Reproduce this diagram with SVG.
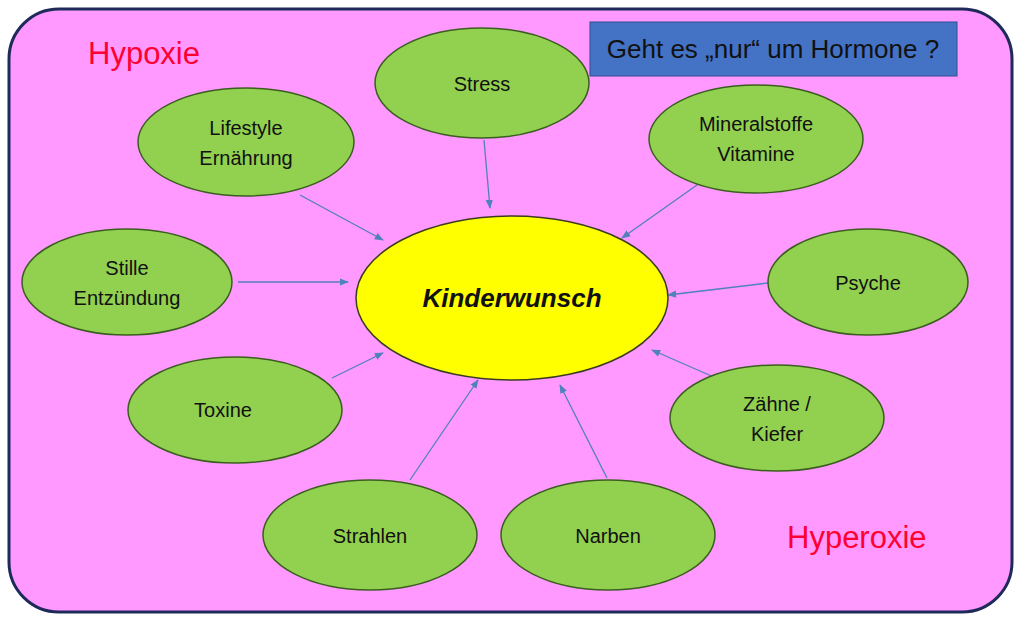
<svg xmlns="http://www.w3.org/2000/svg" width="1024" height="620" viewBox="0 0 1024 620">
<defs>
<marker id="ah" viewBox="0 0 10 10" refX="9" refY="5" markerWidth="7" markerHeight="7" orient="auto"><path d="M0,1 L10,5 L0,9 z" fill="#4F81BD"/></marker>
<style>
.n{fill:#92D050;stroke:#3B5E1F;stroke-width:1.5}
.t{font-family:"Liberation Sans",Arial,sans-serif;font-size:20px;fill:#111;text-anchor:middle}
.c{stroke:#4F81BD;stroke-width:1.3;fill:none;marker-end:url(#ah)}
.r{font-family:"Liberation Sans",Arial,sans-serif;font-size:31px;fill:#FF0033}
</style>
</defs>
<rect x="9" y="9" width="1003" height="603" rx="50" fill="#FF99FF" stroke="#1F2A5A" stroke-width="3"/>
<rect x="590" y="22" width="367" height="54" fill="#4472C4" stroke="#2F4F8F"/>
<text x="773" y="58" font-family="'Liberation Sans',Arial,sans-serif" font-size="26" text-anchor="middle" fill="#111">Geht es „nur“ um Hormone ?</text>
<text class="r" x="88" y="64">Hypoxie</text>
<text class="r" x="787" y="548">Hyperoxie</text>
<g id="connectors">
<line class="c" x1="484" y1="140" x2="490" y2="208"/>
<line class="c" x1="300" y1="195" x2="383" y2="240"/>
<line class="c" x1="697" y1="185" x2="622" y2="238"/>
<line class="c" x1="238" y1="282" x2="348" y2="282"/>
<line class="c" x1="768" y1="283" x2="668" y2="295"/>
<line class="c" x1="332" y1="378" x2="383" y2="353"/>
<line class="c" x1="716" y1="378" x2="652" y2="350"/>
<line class="c" x1="410" y1="480" x2="478" y2="380"/>
<line class="c" x1="607" y1="478" x2="560" y2="385"/>
</g>
<g id="center"><ellipse cx="512" cy="298" rx="156" ry="82" fill="#FFFF00" stroke="#3B3B1F" stroke-width="1.5"/><text x="512" y="307" font-family="'Liberation Sans',Arial,sans-serif" font-size="26" font-weight="bold" font-style="italic" text-anchor="middle" fill="#111">Kinderwunsch</text></g>
<g id="stress"><ellipse class="n" cx="482" cy="83" rx="107" ry="55"/><text class="t" x="482" y="91">Stress</text></g>
<g id="lifestyle"><ellipse class="n" cx="246" cy="142" rx="108" ry="54"/><text class="t" x="246" y="135">Lifestyle</text><text class="t" x="246" y="165">Ernährung</text></g>
<g id="mineral"><ellipse class="n" cx="756" cy="139" rx="107" ry="54"/><text class="t" x="756" y="131">Mineralstoffe</text><text class="t" x="756" y="161">Vitamine</text></g>
<g id="stille"><ellipse class="n" cx="127" cy="282" rx="105" ry="53"/><text class="t" x="127" y="275">Stille</text><text class="t" x="127" y="305">Entzündung</text></g>
<g id="psyche"><ellipse class="n" cx="868" cy="282" rx="100" ry="53"/><text class="t" x="868" y="290">Psyche</text></g>
<g id="toxine"><ellipse class="n" cx="235" cy="410" rx="107" ry="53"/><text class="t" x="223" y="417">Toxine</text></g>
<g id="zaehne"><ellipse class="n" cx="777" cy="418" rx="107" ry="53"/><text class="t" x="777" y="411">Zähne /</text><text class="t" x="777" y="441">Kiefer</text></g>
<g id="strahlen"><ellipse class="n" cx="370" cy="535" rx="107" ry="55"/><text class="t" x="370" y="543">Strahlen</text></g>
<g id="narben"><ellipse class="n" cx="608" cy="535" rx="107" ry="55"/><text class="t" x="608" y="543">Narben</text></g>
</svg>
